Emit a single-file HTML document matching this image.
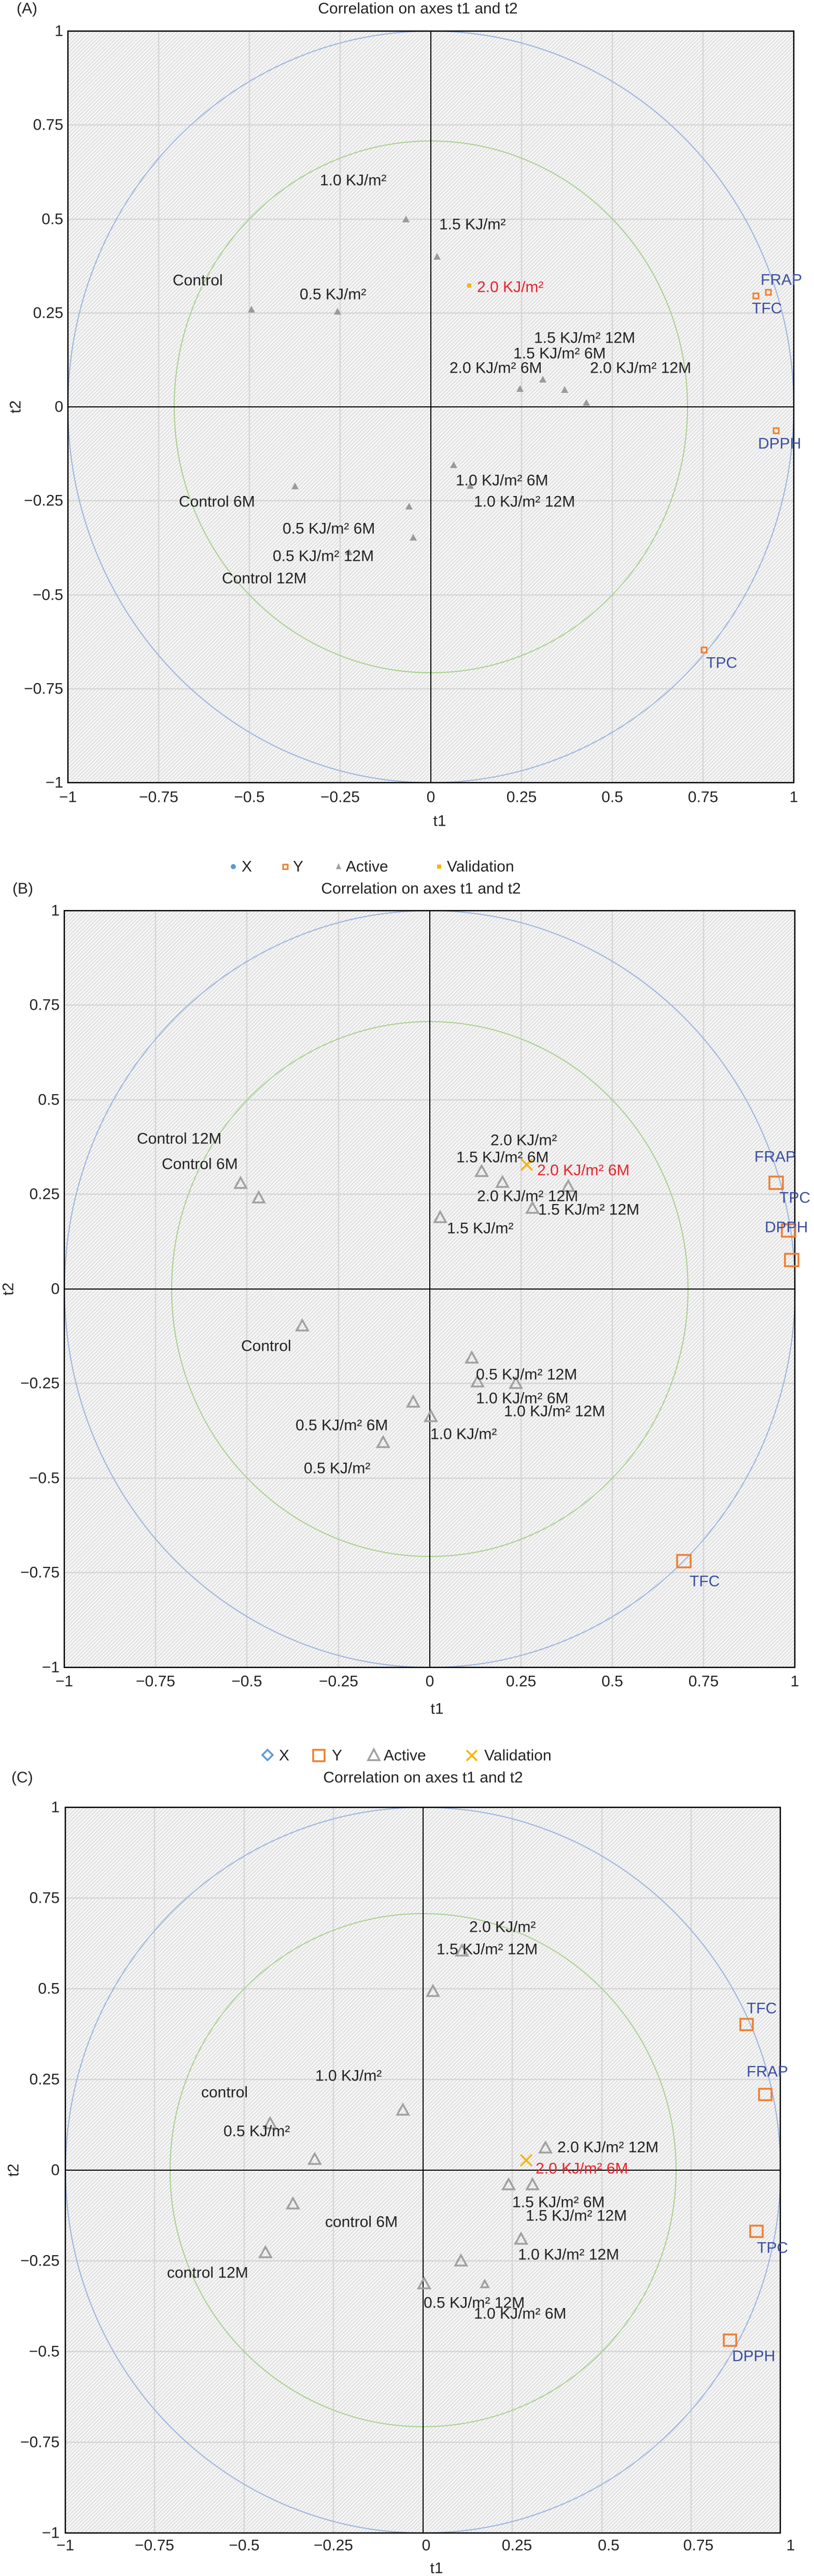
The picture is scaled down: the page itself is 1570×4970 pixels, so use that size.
<!DOCTYPE html>
<html><head><meta charset="utf-8"><style>
html,body{margin:0;padding:0;background:#fff}
svg{display:block}
text{font-family:"Liberation Sans",Arial,sans-serif;fill:#222}
.t{font-size:30px}
.tk{font-size:30px}
.b{fill:#3a4fa0;font-size:30px}
.r{fill:#e8222a;font-size:30px}
.tri{fill:none;stroke:#a0a0a0;stroke-width:3.5}
.trf{fill:#9a9a9a}
.sq{fill:none;stroke:#ef7d2f;stroke-width:3.5}
.sqs{fill:none;stroke:#ef7d2f;stroke-width:3}
.grid{stroke:#d6d6d6;stroke-width:2.5}
</style></head><body>
<svg width="1570" height="4970" viewBox="0 0 1570 4970" xmlns="http://www.w3.org/2000/svg">
<defs>
<pattern id="h" width="5" height="5" patternUnits="userSpaceOnUse" patternTransform="rotate(45)">
<rect width="5" height="5" fill="#f6f6f6"/><rect width="1.5" height="5" fill="#d8d8d8"/>
</pattern>
<path id="t1" d="M0,-8 L7,5 L-7,5Z"/>
<path id="t2" d="M0,-12 L11,8 L-11,8Z"/>
</defs>

<!-- ================= PANEL A ================= -->
<text x="32" y="26" class="t">(A)</text>
<text x="806" y="26" class="t" text-anchor="middle">Correlation on axes t1 and t2</text>
<rect x="131" y="60" width="1400" height="1450" fill="url(#h)"/>
<g class="grid">
<line x1="306" y1="60" x2="306" y2="1510"/><line x1="481" y1="60" x2="481" y2="1510"/><line x1="656" y1="60" x2="656" y2="1510"/>
<line x1="1006" y1="60" x2="1006" y2="1510"/><line x1="1181" y1="60" x2="1181" y2="1510"/><line x1="1356" y1="60" x2="1356" y2="1510"/>
<line x1="131" y1="241" x2="1531" y2="241"/><line x1="131" y1="423" x2="1531" y2="423"/><line x1="131" y1="604" x2="1531" y2="604"/>
<line x1="131" y1="966" x2="1531" y2="966"/><line x1="131" y1="1148" x2="1531" y2="1148"/><line x1="131" y1="1329" x2="1531" y2="1329"/>
</g>
<ellipse cx="831" cy="785" rx="700" ry="725" fill="none" stroke="#9ab3e0" stroke-width="2"/>
<ellipse cx="831" cy="785" rx="495" ry="513" fill="none" stroke="#a8d08d" stroke-width="2"/>
<line x1="831" y1="60" x2="831" y2="1510" stroke="#000" stroke-width="2"/>
<line x1="131" y1="785" x2="1531" y2="785" stroke="#000" stroke-width="2"/>
<rect x="131" y="60" width="1400" height="1450" fill="none" stroke="#000" stroke-width="2.5"/>
<g class="tk" text-anchor="end" dominant-baseline="central">
<text x="122" y="60">1</text><text x="122" y="241">0.75</text><text x="122" y="423">0.5</text><text x="122" y="604">0.25</text><text x="122" y="785">0</text><text x="122" y="966">−0.25</text><text x="122" y="1148">−0.5</text><text x="122" y="1329">−0.75</text><text x="122" y="1510">−1</text>
</g>
<g class="tk" text-anchor="middle" dominant-baseline="central">
<text x="131" y="1538">−1</text><text x="306" y="1538">−0.75</text><text x="481" y="1538">−0.5</text><text x="656" y="1538">−0.25</text><text x="831" y="1538">0</text><text x="1006" y="1538">0.25</text><text x="1181" y="1538">0.5</text><text x="1356" y="1538">0.75</text><text x="1531" y="1538">1</text>
<text x="848" y="1584">t1</text>
</g>
<text x="30" y="785" class="t" text-anchor="middle" dominant-baseline="central" transform="rotate(-90 30 785)">t2</text>
<g class="trf">
<use href="#t1" x="783" y="424"/><use href="#t1" x="843" y="496"/><use href="#t1" x="485" y="598"/><use href="#t1" x="651" y="602"/>
<use href="#t1" x="1003" y="751"/><use href="#t1" x="1047" y="733"/><use href="#t1" x="1089" y="753"/><use href="#t1" x="1131" y="778"/>
<use href="#t1" x="875" y="898"/><use href="#t1" x="907" y="938"/><use href="#t1" x="569" y="939"/><use href="#t1" x="789" y="978"/>
<use href="#t1" x="797" y="1038"/><use href="#t1" x="673" y="1066"/>
</g>
<rect x="901" y="547" width="8" height="8" fill="#f6b500"/>
<g class="sqs"><rect x="1453" y="566" width="10" height="10"/><rect x="1477" y="559" width="10" height="10"/><rect x="1492" y="826" width="10" height="10"/><rect x="1353" y="1249" width="10" height="10"/></g>
<g class="t" dominant-baseline="central">
<text x="617" y="348">1.0 KJ/m²</text><text x="847" y="433">1.5 KJ/m²</text><text x="333" y="541">Control</text><text x="578" y="568">0.5 KJ/m²</text>
<text x="1030" y="652">1.5 KJ/m² 12M</text><text x="990" y="682">1.5 KJ/m² 6M</text><text x="867" y="710">2.0 KJ/m² 6M</text><text x="1138" y="710">2.0 KJ/m² 12M</text>
<text x="879" y="927">1.0 KJ/m² 6M</text><text x="914" y="968">1.0 KJ/m² 12M</text><text x="345" y="968">Control 6M</text>
<text x="545" y="1020">0.5 KJ/m² 6M</text><text x="526" y="1073">0.5 KJ/m² 12M</text><text x="428" y="1116">Control 12M</text>
<text x="920" y="554" class="r">2.0 KJ/m²</text>
<text x="1467" y="540" class="b">FRAP</text><text x="1450" y="595" class="b">TFC</text><text x="1462" y="856" class="b">DPPH</text><text x="1362" y="1279" class="b">TPC</text>
</g>

<!-- legend B -->
<g dominant-baseline="central" class="t">
<circle cx="450" cy="1672" r="5" fill="#5b9bd5"/><text x="466" y="1672">X</text>
<rect x="546" y="1668" width="9" height="9" fill="none" stroke="#ef7d2f" stroke-width="3"/><text x="565" y="1672">Y</text>
<path d="M653,1665 L658,1677 L648,1677Z" fill="#a0a0a0"/><text x="667" y="1672">Active</text>
<rect x="843" y="1668" width="8" height="8" fill="#f6b500"/><text x="862" y="1672">Validation</text>
</g>

<!-- ================= PANEL B ================= -->
<text x="24" y="1724" class="t">(B)</text>
<text x="812" y="1724" class="t" text-anchor="middle">Correlation on axes t1 and t2</text>
<rect x="124" y="1757" width="1409" height="1460" fill="url(#h)"/>
<g class="grid">
<line x1="300" y1="1757" x2="300" y2="3217"/><line x1="476" y1="1757" x2="476" y2="3217"/><line x1="653" y1="1757" x2="653" y2="3217"/>
<line x1="1005" y1="1757" x2="1005" y2="3217"/><line x1="1181" y1="1757" x2="1181" y2="3217"/><line x1="1357" y1="1757" x2="1357" y2="3217"/>
<line x1="124" y1="1939" x2="1533" y2="1939"/><line x1="124" y1="2122" x2="1533" y2="2122"/><line x1="124" y1="2304" x2="1533" y2="2304"/>
<line x1="124" y1="2669" x2="1533" y2="2669"/><line x1="124" y1="2852" x2="1533" y2="2852"/><line x1="124" y1="3034" x2="1533" y2="3034"/>
</g>
<ellipse cx="829" cy="2487" rx="704.5" ry="730" fill="none" stroke="#9ab3e0" stroke-width="2"/>
<ellipse cx="829" cy="2487" rx="498" ry="516" fill="none" stroke="#a8d08d" stroke-width="2"/>
<line x1="829" y1="1757" x2="829" y2="3217" stroke="#000" stroke-width="2"/>
<line x1="124" y1="2487" x2="1533" y2="2487" stroke="#000" stroke-width="2"/>
<rect x="124" y="1757" width="1409" height="1460" fill="none" stroke="#000" stroke-width="2.5"/>
<g class="tk" text-anchor="end" dominant-baseline="central">
<text x="115" y="1757">1</text><text x="115" y="1939">0.75</text><text x="115" y="2122">0.5</text><text x="115" y="2304">0.25</text><text x="115" y="2487">0</text><text x="115" y="2669">−0.25</text><text x="115" y="2852">−0.5</text><text x="115" y="3034">−0.75</text><text x="115" y="3217">−1</text>
</g>
<g class="tk" text-anchor="middle" dominant-baseline="central">
<text x="124" y="3244">−1</text><text x="300" y="3244">−0.75</text><text x="476" y="3244">−0.5</text><text x="653" y="3244">−0.25</text><text x="829" y="3244">0</text><text x="1005" y="3244">0.25</text><text x="1181" y="3244">0.5</text><text x="1357" y="3244">0.75</text><text x="1533" y="3244">1</text>
<text x="843" y="3297">t1</text>
</g>
<text x="16" y="2487" class="t" text-anchor="middle" dominant-baseline="central" transform="rotate(-90 16 2487)">t2</text>
<g class="tri">
<use href="#t2" x="464" y="2284"/><use href="#t2" x="499" y="2312"/><use href="#t2" x="849" y="2350"/><use href="#t2" x="929" y="2261"/>
<use href="#t2" x="969" y="2282"/><use href="#t2" x="1096" y="2290"/><use href="#t2" x="1027" y="2332"/><use href="#t2" x="583" y="2559"/>
<use href="#t2" x="910" y="2621"/><use href="#t2" x="921" y="2667"/><use href="#t2" x="995" y="2670"/><use href="#t2" x="797" y="2706"/>
<use href="#t2" x="831" y="2734"/><use href="#t2" x="739" y="2784"/>
</g>
<path d="M1005,2236 L1027,2258 M1027,2236 L1005,2258" stroke="#f6b500" stroke-width="3.5"/>
<g class="sq"><rect x="1484" y="2270" width="26" height="24"/><rect x="1508" y="2362" width="26" height="24"/><rect x="1514" y="2419" width="26" height="24"/><rect x="1306" y="3000" width="26" height="24"/></g>
<g class="t" dominant-baseline="central">
<text x="264" y="2197">Control 12M</text><text x="312" y="2246">Control 6M</text><text x="946" y="2200">2.0 KJ/m²</text><text x="880" y="2233">1.5 KJ/m² 6M</text>
<text x="920" y="2308">2.0 KJ/m² 12M</text><text x="1038" y="2334">1.5 KJ/m² 12M</text><text x="862" y="2370">1.5 KJ/m²</text><text x="465" y="2597">Control</text>
<text x="918" y="2652">0.5 KJ/m² 12M</text><text x="918" y="2698">1.0 KJ/m² 6M</text><text x="972" y="2723">1.0 KJ/m² 12M</text><text x="570" y="2750">0.5 KJ/m² 6M</text>
<text x="830" y="2767">1.0 KJ/m²</text><text x="586" y="2833">0.5 KJ/m²</text>
<text x="1036" y="2258" class="r">2.0 KJ/m² 6M</text>
<text x="1455" y="2232" class="b">FRAP</text><text x="1503" y="2311" class="b">TPC</text><text x="1475" y="2368" class="b">DPPH</text><text x="1330" y="3051" class="b">TFC</text>
</g>

<!-- legend C -->
<g dominant-baseline="central" class="t">
<path d="M516,3376 L526,3386 L516,3396 L506,3386Z" fill="none" stroke="#5b9bd5" stroke-width="3.5"/><text x="538" y="3387">X</text>
<rect x="604" y="3376" width="22" height="22" fill="none" stroke="#ef7d2f" stroke-width="3.5"/><text x="640" y="3387">Y</text>
<path d="M721,3375 L732,3396 L710,3396Z" fill="none" stroke="#a0a0a0" stroke-width="3.5"/><text x="740" y="3387">Active</text>
<path d="M900,3377 L920,3397 M920,3377 L900,3397" stroke="#f6b500" stroke-width="3.5"/><text x="934" y="3387">Validation</text>
</g>

<!-- ================= PANEL C ================= -->
<text x="22" y="3439" class="t">(C)</text>
<text x="816" y="3439" class="t" text-anchor="middle">Correlation on axes t1 and t2</text>
<rect x="126" y="3487" width="1379" height="1400" fill="url(#h)"/>
<g class="grid">
<line x1="298" y1="3487" x2="298" y2="4887"/><line x1="471" y1="3487" x2="471" y2="4887"/><line x1="643" y1="3487" x2="643" y2="4887"/>
<line x1="988" y1="3487" x2="988" y2="4887"/><line x1="1161" y1="3487" x2="1161" y2="4887"/><line x1="1333" y1="3487" x2="1333" y2="4887"/>
<line x1="126" y1="3662" x2="1505" y2="3662"/><line x1="126" y1="3837" x2="1505" y2="3837"/><line x1="126" y1="4012" x2="1505" y2="4012"/>
<line x1="126" y1="4362" x2="1505" y2="4362"/><line x1="126" y1="4537" x2="1505" y2="4537"/><line x1="126" y1="4712" x2="1505" y2="4712"/>
</g>
<ellipse cx="816" cy="4187" rx="689.5" ry="700" fill="none" stroke="#9ab3e0" stroke-width="2"/>
<ellipse cx="816" cy="4187" rx="488" ry="495" fill="none" stroke="#a8d08d" stroke-width="2"/>
<line x1="816" y1="3487" x2="816" y2="4887" stroke="#000" stroke-width="2"/>
<line x1="126" y1="4187" x2="1505" y2="4187" stroke="#000" stroke-width="2"/>
<rect x="126" y="3487" width="1379" height="1400" fill="none" stroke="#000" stroke-width="2.5"/>
<g class="tk" text-anchor="end" dominant-baseline="central">
<text x="115" y="3487">1</text><text x="115" y="3662">0.75</text><text x="115" y="3837">0.5</text><text x="115" y="4012">0.25</text><text x="115" y="4187">0</text><text x="115" y="4362">−0.25</text><text x="115" y="4537">−0.5</text><text x="115" y="4712">−0.75</text><text x="115" y="4887">−1</text>
</g>
<g class="tk" text-anchor="middle" dominant-baseline="central">
<text x="126" y="4911">−1</text><text x="298" y="4911">−0.75</text><text x="471" y="4911">−0.5</text><text x="643" y="4911">−0.25</text><text x="822" y="4911">0</text><text x="997" y="4911">0.25</text><text x="1174" y="4911">0.5</text><text x="1347" y="4911">0.75</text><text x="1525" y="4911">1</text>
<text x="842" y="4955">t1</text>
</g>
<text x="26" y="4187" class="t" text-anchor="middle" dominant-baseline="central" transform="rotate(-90 26 4187)">t2</text>
<g class="tri">
<use href="#t2" x="891" y="3765"/><use href="#t2" x="835" y="3843"/><use href="#t2" x="777" y="4072"/><use href="#t2" x="521" y="4098"/>
<use href="#t2" x="607" y="4167"/><use href="#t2" x="1052" y="4145"/><use href="#t2" x="981" y="4216"/><use href="#t2" x="1027" y="4216"/>
<use href="#t2" x="565" y="4253"/><use href="#t2" x="1005" y="4321"/><use href="#t2" x="512" y="4347"/><use href="#t2" x="889" y="4363"/>
<use href="#t2" x="818" y="4407"/><use href="#t1" x="935" y="4408"/>
</g>
<path d="M1004,4157 L1026,4179 M1026,4157 L1004,4179" stroke="#f6b500" stroke-width="3.5"/>
<g class="sq"><rect x="1428" y="3895" width="24" height="22"/><rect x="1464" y="4030" width="24" height="22"/><rect x="1447" y="4294" width="24" height="22"/><rect x="1396" y="4504" width="24" height="22"/></g>
<g class="t" dominant-baseline="central">
<text x="905" y="3718">2.0 KJ/m²</text><text x="842" y="3761">1.5 KJ/m² 12M</text><text x="608" y="4005">1.0 KJ/m²</text><text x="388" y="4037">control</text>
<text x="431" y="4112">0.5 KJ/m²</text><text x="1075" y="4143">2.0 KJ/m² 12M</text><text x="988" y="4249">1.5 KJ/m² 6M</text><text x="1014" y="4275">1.5 KJ/m² 12M</text>
<text x="627" y="4287">control 6M</text><text x="999" y="4350">1.0 KJ/m² 12M</text><text x="322" y="4385">control 12M</text>
<text x="817" y="4443">0.5 KJ/m² 12M</text><text x="914" y="4464">1.0 KJ/m² 6M</text>
<text x="1033" y="4184" class="r">2.0 KJ/m² 6M</text>
<text x="1440" y="3875" class="b">TFC</text><text x="1440" y="3997" class="b">FRAP</text><text x="1460" y="4337" class="b">TPC</text><text x="1412" y="4546" class="b">DPPH</text>
</g>
</svg>
</body></html>
